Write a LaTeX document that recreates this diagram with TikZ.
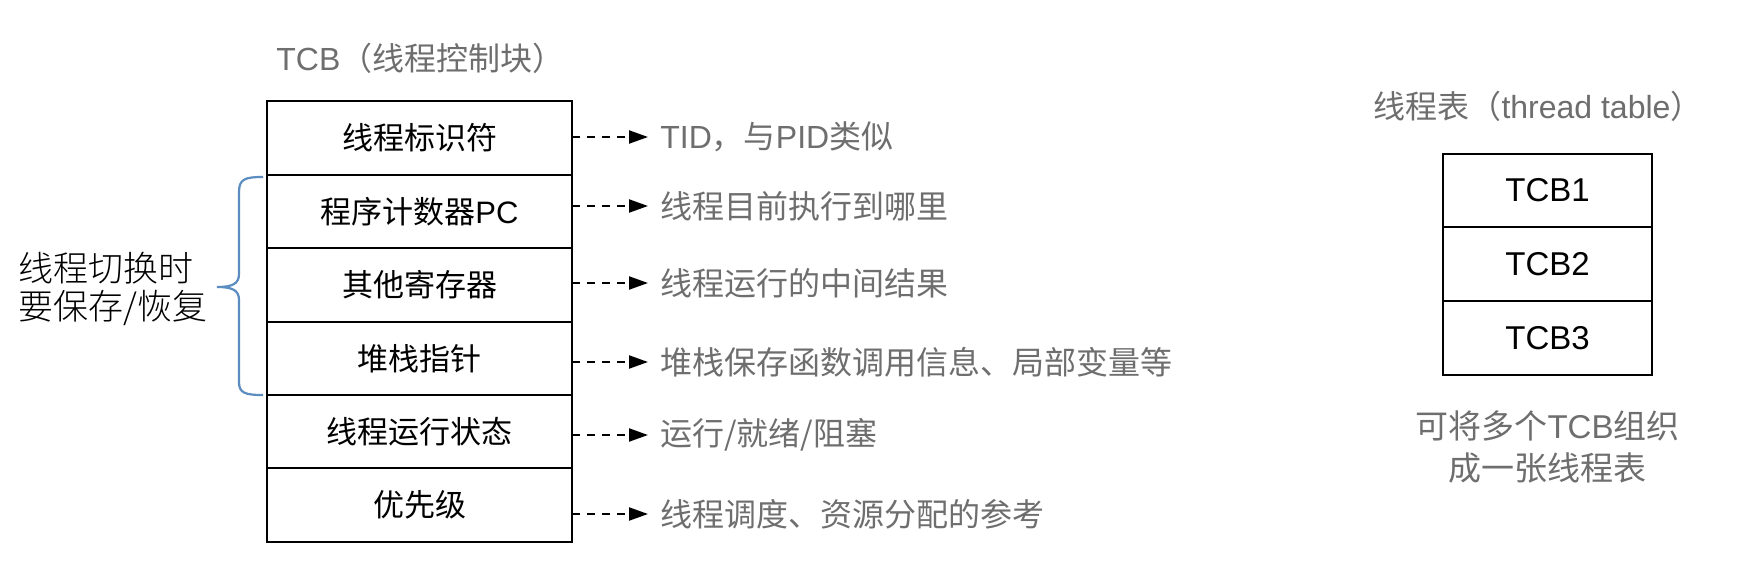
\documentclass[tikz,border=0pt]{standalone}
\usepackage{fontspec}
\setmainfont{Noto Sans CJK SC}
\newfontfamily\lat{Liberation Sans}
\newfontfamily\lightcjk{Noto Sans CJK SC}[UprightFont={* Light}]
\usetikzlibrary{arrows.meta}
\definecolor{txtgray}{HTML}{6E6E6E}
\definecolor{braceblue}{HTML}{5B8DC0}
\tikzset{
  rowbox/.style={draw=black, line width=1pt, minimum width=152.5pt, minimum height=36.75pt, outer sep=0pt, inner sep=0pt, font=\fontsize{15.5}{18}\selectfont},
  tcbbox/.style={draw=black, line width=1pt, minimum width=104.5pt, minimum height=36.85pt, outer sep=0pt, inner sep=0pt, font=\lat\fontsize{16.5}{19}\selectfont},
  desc/.style={anchor=west, inner sep=0pt, text=txtgray, font=\fontsize{16}{19}\selectfont},
  title/.style={inner sep=0pt, text=txtgray, font=\fontsize{16}{19}\selectfont},
  dasharrow/.style={line width=1.1pt, dash pattern=on 4pt off 3.5pt, -{Triangle[length=9.5pt,width=6.5pt]}, shorten >=6pt},
  bracestyle/.style={draw=braceblue, line width=1.1pt},
}
\begin{document}
\begin{tikzpicture}[x=0.5pt,y=-0.5pt]
\useasboundingbox (0,0) rectangle (1754,567);
\fill[white] (0,0) rectangle (1754,567);

% TCB title
\node[title, anchor=west] (tcbtitle) at (276,58) {{\lat TCB}（线程控制块）};

% TCB rows
\node[rowbox] (r1) at (419.5,138)   {线程标识符};
\node[rowbox] (r2) at (419.5,211.5) {程序计数器{\lat PC}};
\node[rowbox] (r3) at (419.5,285)   {其他寄存器};
\node[rowbox] (r4) at (419.5,358.5) {堆栈指针};
\node[rowbox] (r5) at (419.5,431.5) {线程运行状态};
\node[rowbox] (r6) at (419.5,505)   {优先级};

% descriptions
\node[desc] (d1) at (660,137) {{\lat TID}，与{\lat PID}类似};
\node[desc] (d2) at (660,206) {线程目前执行到哪里};
\node[desc] (d3) at (660,283) {线程运行的中间结果};
\node[desc] (d4) at (660,362) {堆栈保存函数调用信息、局部变量等};
\node[desc] (d5) at (660,435) {运行/就绪/阻塞};
\node[desc] (d6) at (660,514) {线程调度、资源分配的参考};

\foreach \i in {1,...,6}{
  \draw[dasharrow] (r\i.east |- d\i.west) -- (d\i.west);
}

% brace
\coordinate (btop) at (263,177);
\coordinate (bbot) at (263,395);
\coordinate (btip) at (217,287);
\draw[bracestyle] (btop) .. controls (245,177) and (239,179) .. (239,192)
  -- (239,274) .. controls (239,284) and (232,287) .. (btip)
  .. controls (232,287) and (239,290) .. (239,300)
  -- (239,382) .. controls (239,393) and (245,395) .. (bbot);

% left note
\node[anchor=west, inner sep=0pt, align=left, font=\lightcjk\fontsize{17.5}{19}\selectfont] (note) at (18,289) {线程切换时\\要保存/恢复};

% thread table
\node[title] (tttitle) at (1538,106) {线程表（{\lat thread table}）};
\node[tcbbox] (t1) at (1547.5,190.5) {TCB1};
\node[tcbbox] (t2) at (1547.5,264)   {TCB2};
\node[tcbbox] (t3) at (1547.5,338)   {TCB3};
\node[inner sep=0pt, align=center, text=txtgray, font=\fontsize{16.5}{21}\selectfont] (ttnote) at (1547.5,447) {可将多个{\lat TCB}组织\\成一张线程表};
\end{tikzpicture}
\end{document}
